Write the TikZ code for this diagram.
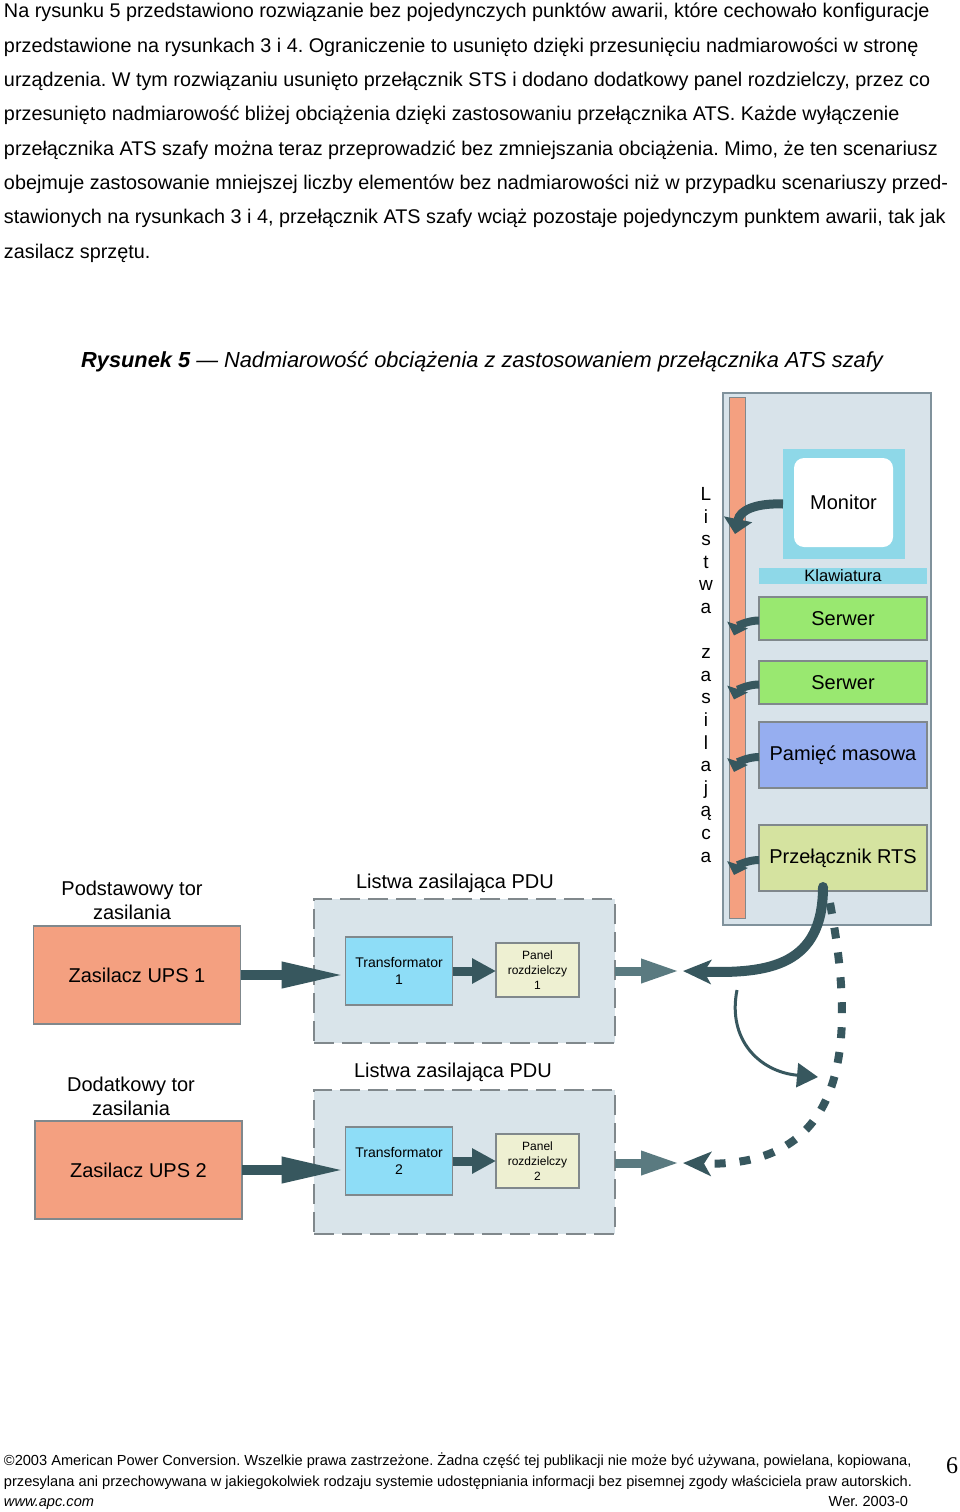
\documentclass[tikz,border=0pt]{standalone}
\usepackage{fontspec}
\setmainfont{Liberation Sans}
\newfontfamily\pagenumfont{Liberation Serif}
\usetikzlibrary{arrows.meta}
\frenchspacing

\definecolor{upsred}{RGB}{244,160,128}
\definecolor{rackbg}{RGB}{216,227,234}
\definecolor{rackline}{RGB}{128,146,156}
\definecolor{boxline}{RGB}{128,136,140}
\definecolor{moncyan}{RGB}{142,216,232}
\definecolor{srvgreen}{RGB}{153,232,112}
\definecolor{memblue}{RGB}{150,174,240}
\definecolor{rtsgreen}{RGB}{213,227,160}
\definecolor{trafocyan}{RGB}{142,221,247}
\definecolor{panelyel}{RGB}{238,240,210}
\definecolor{pdubg}{RGB}{217,228,234}
\definecolor{flowdark}{RGB}{55,87,94}
\definecolor{flowout}{RGB}{90,122,128}

\begin{document}
\begin{tikzpicture}[x=1pt,y=1pt,
  every node/.style={inner sep=0pt, outer sep=0pt},
  bodytxt/.style={anchor=base west, font=\fontsize{19.8}{23}\selectfont},
  foottxt/.style={font=\fontsize{14.6}{17}\selectfont},
  lbl/.style={font=\fontsize{20}{24}\selectfont, align=center},
  devbox/.style={draw=boxline, line width=1.2pt, minimum width=168pt, font=\fontsize{20}{24}\selectfont},
  upsbox/.style={draw=boxline, line width=1.2pt, fill=upsred, minimum width=207pt, minimum height=98pt, font=\fontsize{20}{24}\selectfont},
  pdubox/.style={draw=boxline, line width=1.3pt, dash pattern=on 20pt off 8pt, fill=pdubg, minimum width=301pt, minimum height=144pt},
  trafobox/.style={draw=boxline, line width=1.2pt, fill=trafocyan, minimum width=107pt, minimum height=68pt, align=center, font=\fontsize{14}{17}\selectfont},
  panelbox/.style={draw=boxline, line width=1.2pt, fill=panelyel, minimum width=83pt, minimum height=54pt, align=center, font=\fontsize{12}{15}\selectfont},
  flowarrow/.style={draw=flowdark, line width=10pt, -{Triangle[length=64pt,width=24pt]}},
  smallflow/.style={draw=flowdark, line width=9pt, -{Triangle[length=24pt,width=24pt]}},
  outarrow/.style={draw=flowout, line width=9pt, -{Triangle[length=39pt,width=22pt]}},
  plugarrow/.style={draw=flowdark, line width=8pt, -{Triangle[length=11pt,width=21pt]}},
  rtsarrow/.style={draw=flowdark, line width=10pt, line cap=round, -{Stealth[length=28pt,width=24pt,inset=7pt]}},
  backuparrow/.style={draw=flowdark, line width=8pt, dash pattern=on 11pt off 14pt, -{Stealth[length=28pt,width=24pt,inset=7pt]}},
  swarrow/.style={draw=flowdark, line width=3pt, -{Triangle[length=21pt,width=24pt]}}]

\fill[white] (0,0) rectangle (960,-1512);
\useasboundingbox (0,0) rectangle (960,-1512);

% text above the figure
\node[bodytxt] (t1) at (4,-18) {Na rysunku 5 przedstawiono rozwiązanie bez pojedynczych punktów awarii, które cechowało konfiguracje};
\node[bodytxt] (t2) at (4,-52.3) {przedstawione na rysunkach 3 i 4. Ograniczenie to usunięto dzięki przesunięciu nadmiarowości w stronę};
\node[bodytxt] (t3) at (4,-86.6) {urządzenia. W tym rozwiązaniu usunięto przełącznik STS i dodano dodatkowy panel rozdzielczy, przez co};
\node[bodytxt] (t4) at (4,-120.9) {przesunięto nadmiarowość bliżej obciążenia dzięki zastosowaniu przełącznika ATS. Każde wyłączenie};
\node[bodytxt] (t5) at (4,-155.2) {przełącznika ATS szafy można teraz przeprowadzić bez zmniejszania obciążenia. Mimo, że ten scenariusz};
\node[bodytxt] (t6) at (4,-189.5) {obejmuje zastosowanie mniejszej liczby elementów bez nadmiarowości niż w przypadku scenariuszy przed-};
\node[bodytxt] (t7) at (4,-223.8) {stawionych na rysunkach 3 i 4, przełącznik ATS szafy wciąż pozostaje pojedynczym punktem awarii, tak jak};
\node[bodytxt] (t8) at (4,-258.1) {zasilacz sprzętu.};

\node[anchor=base, font=\fontsize{21.8}{26}\selectfont\itshape] (title) at (482,-367) {\textbf{Rysunek 5} — Nadmiarowość obciążenia z zastosowaniem przełącznika ATS szafy};

% rack
\node[draw=rackline, line width=1.2pt, fill=rackbg, minimum width=208pt, minimum height=532pt] (rack) at (827,-659) {};
\node[draw=boxline, line width=1pt, fill=upsred, minimum width=16pt, minimum height=521pt] (strip) at (737,-657.5) {};
\foreach \ch [count=\k from 0] in {L,i,s,t,w,a,{},z,a,s,i,l,a,j,ą,c,a}
  \node[anchor=base, font=\fontsize{19}{23}\selectfont] (v\k) at (706,-500.5-22.6*\k) {\ch};

\node[fill=moncyan, minimum width=122pt, minimum height=110pt] (moncase) at (844,-504) {};
\node[fill=white, rounded corners=10pt, minimum width=99pt, minimum height=89pt, font=\fontsize{20}{24}\selectfont] (monitor) at (843.5,-502.5) {Monitor};
\node[fill=moncyan, minimum width=168pt, minimum height=16pt, font=\fontsize{16.5}{18}\selectfont] (kbd) at (843,-576) {Klawiatura};
\node[devbox, fill=srvgreen, minimum height=43pt] (srv1) at (843,-618.5) {Serwer};
\node[devbox, fill=srvgreen, minimum height=43pt] (srv2) at (843,-682.5) {Serwer};
\node[devbox, fill=memblue, minimum height=66pt] (mem) at (843,-755) {Pamięć masowa};
\node[devbox, fill=rtsgreen, minimum height=66pt] (rts) at (843,-858) {Przełącznik RTS};

% plugs into the strip
\coordinate (pmon) at (735,-534);
\draw[plugarrow, line width=9pt, -{Triangle[length=15pt,width=28pt]}] (moncase.west) .. controls (756,-503) and (740,-510) .. (pmon);
\foreach \dev in {srv1,srv2,mem,rts}
  \draw[plugarrow] ([yshift=-2pt]\dev.west) .. controls ++(-12pt,0) and ++(3pt,9pt) .. ([xshift=-25pt,yshift=-17pt]\dev.west);

% primary path
\node[lbl] (prim) at (132,-900) {Podstawowy tor\\[0pt]zasilania};
\node[upsbox] (ups1) at (137,-975) {Zasilacz UPS 1};
\node[pdubox] (pdu1) at (464.5,-971) {};
\node[lbl] (pdu1lbl) at (455,-883) {Listwa zasilająca PDU};
\node[trafobox] (trafo1) at (399,-971) {Transformator\\1};
\node[panelbox] (panel1) at (537.5,-970) {Panel\\rozdzielczy\\1};
\draw[flowarrow] (ups1.east) -- (ups1.east -| trafo1.west);
\draw[smallflow] (trafo1.east) -- (trafo1.east -| panel1.west);
\coordinate (out1) at (680,-971);
\draw[outarrow] (pdu1.east |- out1) -- (out1);

% secondary path
\node[lbl] (sec) at (131,-1096) {Dodatkowy tor\\[0pt]zasilania};
\node[upsbox] (ups2) at (138.5,-1170) {Zasilacz UPS 2};
\node[pdubox] (pdu2) at (464.5,-1162) {};
\node[lbl] (pdu2lbl) at (453,-1072) {Listwa zasilająca PDU};
\node[trafobox] (trafo2) at (399,-1161) {Transformator\\2};
\node[panelbox] (panel2) at (537.5,-1161) {Panel\\rozdzielczy\\2};
\draw[flowarrow] (ups2.east) -- (ups2.east -| trafo2.west);
\draw[smallflow] (trafo2.east) -- (trafo2.east -| panel2.west);
\coordinate (out2) at (680,-1163);
\draw[outarrow] (pdu2.east |- out2) -- (out2);

% RTS feeds
\coordinate (in1) at (683,-971);
\coordinate (in2) at (683,-1163);
\draw[rtsarrow] ([xshift=-20pt,yshift=4pt]rts.south) .. controls (823,-965) and (770,-974) .. (in1);
\draw[backuparrow] ([xshift=-13pt,yshift=-12pt]rts.south) .. controls (858,-1050) and (845,-1168) .. (in2);
\coordinate (swa) at (737,-990);
\coordinate (swb) at (818,-1077);
\draw[swarrow] (swa) .. controls (727,-1040) and (760,-1072) .. (swb);

% footer
\node[foottxt, anchor=base west] (f1) at (4,-1465.5) {©2003 American Power Conversion. Wszelkie prawa zastrzeżone. Żadna część tej publikacji nie może być używana, powielana, kopiowana,};
\node[foottxt, anchor=base west] (f2) at (4,-1486.5) {przesylana ani przechowywana w jakiegokolwiek rodzaju systemie udostępniania informacji bez pisemnej zgody właściciela praw autorskich.};
\node[foottxt, anchor=base west, font=\fontsize{14.6}{17}\selectfont\itshape] (f3) at (4,-1506.5) {www.apc.com};
\node[foottxt, anchor=base east] (f4) at (908,-1506.5) {Wer. 2003-0};
\node[anchor=base, font=\fontsize{24}{28}\pagenumfont] (pgno) at (952,-1473) {6};
\end{tikzpicture}
\end{document}
